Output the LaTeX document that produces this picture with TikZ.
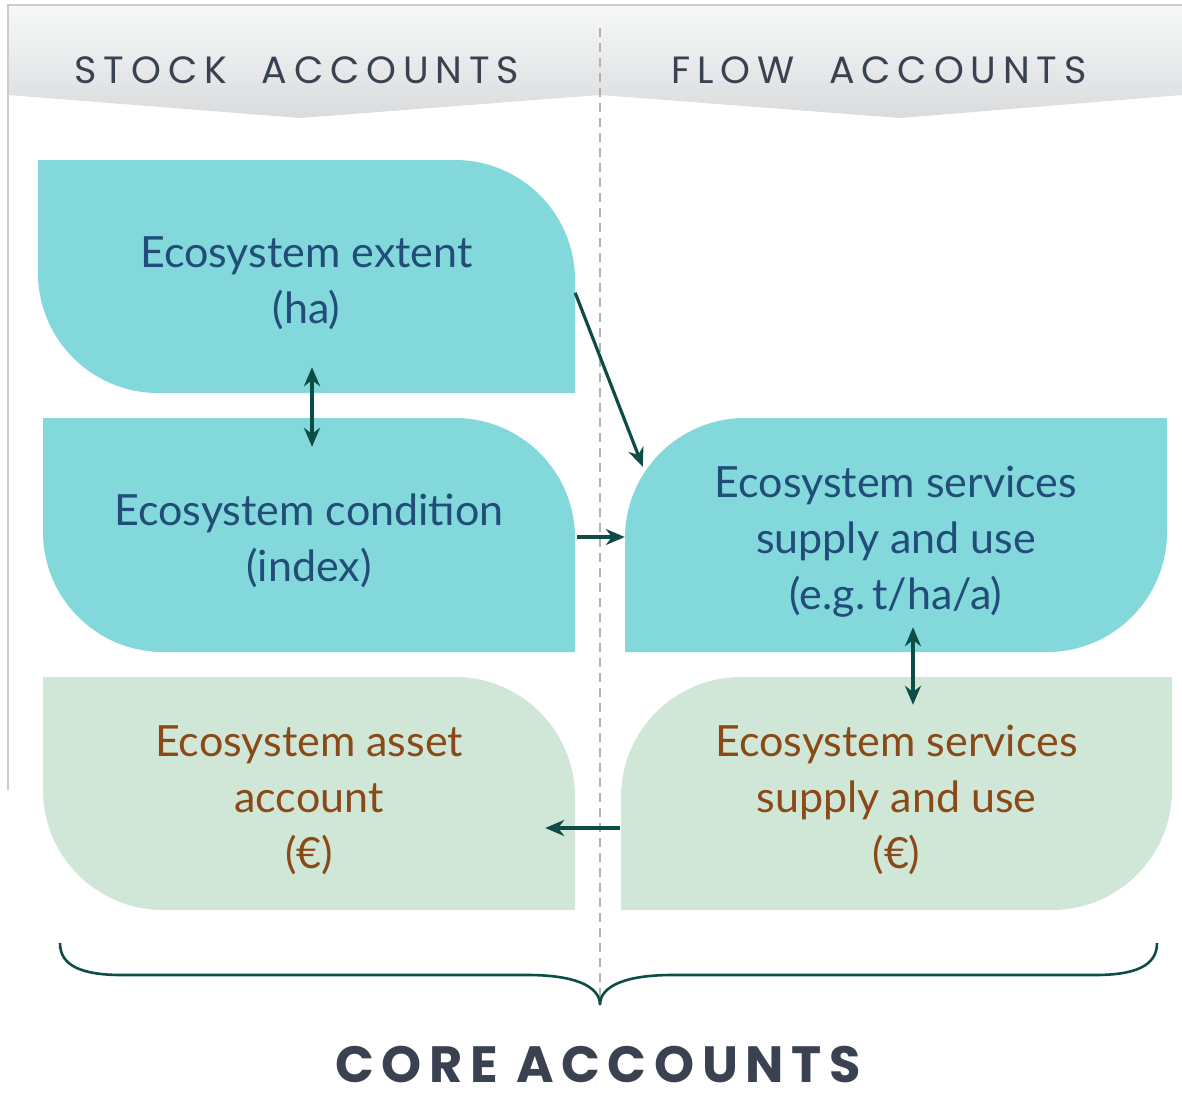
\documentclass[tikz,border=0pt]{standalone}
\usepackage{fontspec}
\setmainfont{Lato}
\newfontfamily\hdfont[LetterSpace=18]{Poppins}
\newfontfamily\corefont[LetterSpace=15]{Poppins Bold}
\usetikzlibrary{arrows.meta,calc}
\definecolor{tealbox}{HTML}{82D8DB}
\definecolor{greenbox}{HTML}{D0E7D7}
\definecolor{bluetxt}{HTML}{214D78}
\definecolor{browntxt}{HTML}{8A4A18}
\definecolor{arrowc}{HTML}{0D4D46}
\definecolor{headtxt}{HTML}{3A4252}
\definecolor{hdtop}{HTML}{F7F9F9}
\definecolor{hdbot}{HTML}{D9DBDD}
\newcommand\rr{120}
% top-right and bottom-left rounded
\newcommand\leafR[5]{\fill[#5] (#1,#2) -- ({#3-\rr},#2) .. controls ({#3-0.448*\rr},#2) and (#3,{#2+0.448*\rr}) .. (#3,{#2+\rr}) -- (#3,#4) -- ({#1+\rr},#4) .. controls ({#1+0.448*\rr},#4) and (#1,{#4-0.448*\rr}) .. (#1,{#4-\rr}) -- cycle;}
% top-left and bottom-right rounded
\newcommand\leafL[5]{\fill[#5] (#1,{#2+\rr}) .. controls (#1,{#2+0.448*\rr}) and ({#1+0.448*\rr},#2) .. ({#1+\rr},#2) -- (#3,#2) -- (#3,{#4-\rr}) .. controls (#3,{#4-0.448*\rr}) and ({#3-0.448*\rr},#4) .. ({#3-\rr},#4) -- (#1,#4) -- cycle;}
\begin{document}
\begin{tikzpicture}[x=1pt,y=-1pt,
  boxtxt/.style={align=center, inner sep=0pt, font=\fontsize{43}{56}\selectfont},
  bluebox/.style={boxtxt, text=bluetxt},
  brownbox/.style={boxtxt, text=browntxt},
  headtext/.style={font=\hdfont\fontsize{38}{40}\selectfont, text=headtxt, inner sep=0pt},
  arr/.style={-{Stealth[length=19pt,width=16pt]}, line width=3.2pt, draw=arrowc},
  darr/.style={{Stealth[length=19pt,width=16pt]}-{Stealth[length=19pt,width=16pt]}, line width=3.2pt, draw=arrowc}]
\useasboundingbox (0,0) rectangle (1182,1092);
% header bands
\shade[top color=hdtop, bottom color=hdbot] (8,5) -- (600,5) -- (600,95) -- (300,118) -- (8,95) -- cycle;
\shade[top color=hdtop, bottom color=hdbot] (600,5) -- (1182,5) -- (1182,95) -- (900,118) -- (600,95) -- cycle;
\draw[color=black!20, line width=1.5pt] (8,790) -- (8,5) -- (1182,5);
% divider
\draw[color=black!30, line width=1.5pt, dash pattern=on 9pt off 6pt] (600,28) -- (600,1003);
% header texts
\node[headtext] (stock) at (297,70) {STOCK \hspace{18pt}ACCOUNTS};
\node[headtext] (flow) at (879,70) {FLOW \hspace{18pt}ACCOUNTS};
% shapes
\leafR{38}{160}{575}{393}{tealbox}
\leafR{43}{418}{575}{652}{tealbox}
\leafL{625}{418}{1167}{652}{tealbox}
\leafR{43}{677}{575}{910}{greenbox}
\leafL{621}{677}{1172}{910}{greenbox}
% text nodes
\node[bluebox, minimum width=537pt, minimum height=233pt] (extent) at (306.5,276.5) {};
\node[bluebox] (extentT) at (306.5,283) {Ecosystem extent\\(ha)};
\node[bluebox, minimum width=532pt, minimum height=234pt] (cond) at (309,535) {};
\node[bluebox] (condT) at (309,541) {Ecosystem condition\\(index)};
\node[bluebox, minimum width=542pt, minimum height=234pt] (esu) at (896,535) {};
\node[bluebox] (esuT) at (896,542) {Ecosystem services\\supply and use\\(e.g.\,t/ha/a)};
\node[brownbox, minimum width=532pt, minimum height=233pt] (asset) at (309,793.5) {};
\node[brownbox] (assetT) at (309,800) {Ecosystem asset\\account\\(€)};
\node[brownbox, minimum width=551pt, minimum height=233pt] (esv) at (896.5,793.5) {};
\node[brownbox] (esvT) at (896.5,800) {Ecosystem services\\supply and use\\(€)};
% connectors
\draw[arr] ($(extent.north east)+(0,133)$) -- ($(esu.north west)+(18,49)$);
\draw[arr] ($(cond.east)+(2,2)$) -- ($(esu.west)+(0,2)$);
\draw[arr] ($(esv.west)+(-1,34.5)$) -- ($(asset.east)+(-30,34.5)$);
\draw[darr] ($(extent.south)+(5.5,-26)$) -- ($(cond.north)+(3,29)$);
\draw[darr] ($(esu.south)+(17,-25)$) -- ($(esv.north)+(16.5,28)$);
% brace
\coordinate (bl) at (60,943);
\coordinate (bt) at (600,1005);
\coordinate (br) at (1157,943);
\draw[arrowc, line width=2.6pt] (bl) .. controls (60,966) and (82,975) .. (122,975) -- (528,975) .. controls (572,975) and (600,985) .. (bt) .. controls (600,985) and (628,975) .. (672,975) -- (1095,975) .. controls (1135,975) and (1157,966) .. (br);
\node[font=\corefont\fontsize{51}{52}\selectfont, text=headtxt, inner sep=0pt] (core) at (598,1065) {CORE ACCOUNTS};
\end{tikzpicture}
\end{document}
